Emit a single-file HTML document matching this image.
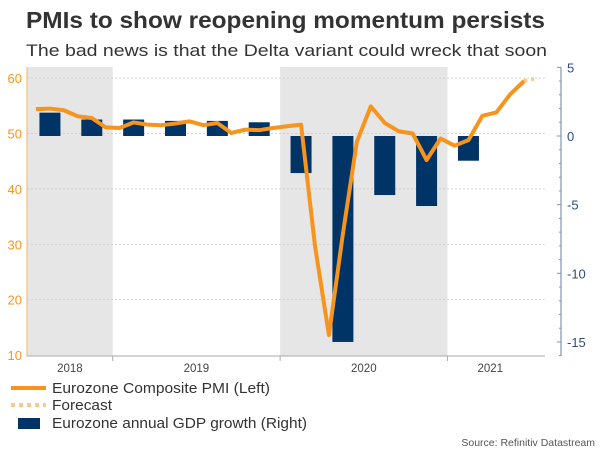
<!DOCTYPE html>
<html><head><meta charset="utf-8"><style>
body{margin:0;width:600px;height:450px;background:#fff;overflow:hidden;font-family:"Liberation Sans",sans-serif}
</style></head><body>
<svg width="600" height="450" xmlns="http://www.w3.org/2000/svg">
<text x="26" y="28" font-size="23" font-weight="bold" fill="#333" textLength="519" lengthAdjust="spacingAndGlyphs">PMIs to show reopening momentum persists</text>
<text x="26" y="56" font-size="17" fill="#333" textLength="521" lengthAdjust="spacingAndGlyphs">The bad news is that the Delta variant could wreck that soon</text>
<g id="plot"></g>
<g>
<line x1="11" y1="388" x2="46" y2="388" stroke="#f7941d" stroke-width="4"/>
<text x="52" y="393" font-size="15" fill="#333" textLength="218" lengthAdjust="spacingAndGlyphs">Eurozone Composite PMI (Left)</text>
<line x1="11" y1="405" x2="46" y2="405" stroke="#fbc98a" stroke-width="4" stroke-dasharray="4,4"/>
<text x="52" y="410" font-size="15" fill="#333" textLength="60" lengthAdjust="spacingAndGlyphs">Forecast</text>
<rect x="18" y="418" width="22" height="11" fill="#003366"/>
<text x="52" y="428" font-size="15" fill="#333" textLength="255" lengthAdjust="spacingAndGlyphs">Eurozone annual GDP growth (Right)</text>
</g>
<text x="595" y="446" font-size="10.5" fill="#555" text-anchor="end">Source: Refinitiv Datastream</text>
</svg>
<script>
const pmiValues=[54.4,54.5,54.2,53.1,52.8,51.1,51.0,52.0,51.6,51.5,51.8,52.2,51.5,51.9,50.1,50.7,50.6,51.0,51.3,51.6,29.7,13.6,31.9,48.5,54.9,51.9,50.4,50.0,45.2,49.1,47.8,48.8,53.2,53.8,57.1,59.5];
const forecastValues=[59.5,60.0];
const gdpQuarters=["Q3 2018","Q4 2018","Q1 2019","Q2 2019","Q3 2019","Q4 2019","Q1 2020","Q2 2020","Q3 2020","Q4 2020","Q1 2021"];
const gdpValues=[1.7,1.2,1.2,1.1,1.1,1.0,-2.7,-15.0,-4.3,-5.1,-1.8];
const leftTicks=[10,20,30,40,50,60];
const rightTicks=[5,0,-5,-10,-15];
const years=["2018","2019","2020","2021"];

const NS="http://www.w3.org/2000/svg";
const g=document.getElementById('plot');


function el(t,a){const e=document.createElementNS(NS,t);for(const k in a)e.setAttribute(k,a[k]);g.appendChild(e);return e;}
const x0=36, mw=13.95;
function xm(i){return x0+i*mw;}
function yL(v){return 133.5-(v-50)*5.54;}
function yR(v){return 136-v*13.73;}
const PL=27,PR=545,PT=67,PB=356;
function yearStart(k){return xm(-6+12*k)-mw/2;}
[[0,1],[2,3]].forEach(([a,b],n)=>{
  const xs=n===0?PL:yearStart(a), xe=yearStart(b);
  const r=el('rect',{x:xs,y:PT,width:xe-xs,height:PB-PT,fill:'#e6e6e6'});
  
  
});
leftTicks.forEach(v=>{
  if(v===10)return;
  const l=el('line',{x1:PL,x2:PR,y1:yL(v),y2:yL(v),stroke:'#c8c8c8','stroke-width':0.7,'stroke-dasharray':'2,2'});
  
  
});
const la=el('line',{x1:PL,x2:PL,y1:PT,y2:PB,stroke:'#f7b45a','stroke-width':1});


leftTicks.forEach(v=>{
  const t=el('text',{x:PL-5,y:yL(v)+5,'font-size':13,fill:'#f7941d','text-anchor':'end'});
  t.textContent=v;
  
  
});
const ba=el('line',{x1:PL,x2:PR,y1:PB,y2:PB,stroke:'#aaa','stroke-width':1});


years.forEach((y,k)=>{
  const s=k===0?PL:yearStart(k), e=k===3?533:yearStart(k+1);
  if(k>0){const tk=el('line',{x1:s,x2:s,y1:PB,y2:PB+5,stroke:'#aaa'});
  
  }
  const t=el('text',{x:(s+e)/2,y:372,'font-size':11.5,fill:'#444','text-anchor':'middle'});
  t.textContent=y;
  
  
});
const RX=561;
const ra=el('line',{x1:RX,x2:RX,y1:yR(5),y2:PB,stroke:'#7f95b0','stroke-width':1.2});


for(let v=5;v>=-16;v--){
  const mk=el('line',{x1:RX-(v%5===0?4:2),x2:RX,y1:yR(v),y2:yR(v),stroke:'#7f95b0'});
  
  
}
rightTicks.forEach(v=>{
  const t=el('text',{x:RX+6,y:yR(v)+5,'font-size':13,fill:'#2c4f7c'});
  t.textContent=v;
  
  
});
gdpValues.forEach((v,i)=>{
  const cx=xm(1+3*i), w=21;
  const r=el('rect',{x:cx-w/2,y:Math.min(yR(v),yR(0)),width:w,height:Math.abs(yR(v)-yR(0)),fill:'#003366'});
  
  
});
const p=el('polyline',{points:pmiValues.map((v,i)=>xm(i)+','+yL(v)).join(' '),fill:'none',stroke:'#f7941d','stroke-width':4,'stroke-linejoin':'round'});


const n=pmiValues.length-1;
const f=el('polyline',{points:forecastValues.map((v,i)=>xm(n+i)+','+yL(v)).join(' '),fill:'none',stroke:'#fbc98a','stroke-width':4,'stroke-dasharray':'3,4'});


</script>
</body></html>
